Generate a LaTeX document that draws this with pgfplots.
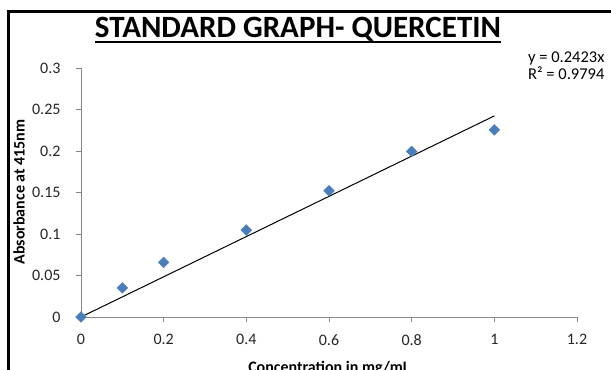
\documentclass[border=0pt]{standalone}
\usepackage{pgfplots}
\pgfplotsset{compat=1.18}
\usepackage{fontspec}
\setmainfont{Carlito}
\definecolor{mblue}{HTML}{4A7EBB}
\definecolor{axgray}{HTML}{868686}
\begin{document}
\begin{tikzpicture}[x=1bp,y=1bp]
\useasboundingbox (0,0) rectangle (611,369);
\clip (0,0) rectangle (611,369);
\fill[white] (0,0) rectangle (611,369);
\draw[line width=2.5bp] (8.5,-5) -- (8.5,357.5) -- (620,357.5);
\begin{axis}[
  at={(81bp,52bp)}, anchor=south west,
  scale only axis, width=496bp, height=249bp,
  xmin=0, xmax=1.2, ymin=0, ymax=0.3,
  axis x line*=bottom, axis y line*=left,
  axis line style={axgray, line width=0.8bp},
  xtick={0,0.2,0.4,0.6,0.8,1,1.2},
  xticklabels={0,0.2,0.4,0.6,0.8,1,1.2},
  ytick={0,0.05,0.1,0.15,0.2,0.25,0.3},
  yticklabels={0,0.05,0.1,0.15,0.2,0.25,0.3},
  tick align=outside, major tick length=5bp,
  tick style={axgray, line width=0.8bp},
  ticklabel style={font=\fontsize{16bp}{19bp}\selectfont, text=black!85},
  xticklabel style={yshift=-9bp},
  yticklabel style={xshift=-12bp},
  xlabel={\textbf{Concentration in mg/mL}},
  label style={font=\fontsize{16bp}{19bp}\selectfont},
  xlabel style={at={(axis description cs:0.5,0)}, anchor=north, yshift=-41bp},
  clip=false,
]
\addplot[black, line width=1bp] coordinates {(0,0) (1,0.2423)};
\addplot[only marks, mark=square*, mark size=3.8bp, mark options={rotate=45, fill=mblue, draw=mblue}] coordinates {
 (0,0) (0.1,0.0351) (0.2,0.0658) (0.4,0.1048) (0.6,0.152) (0.8,0.1995) (1,0.2255)
};
\end{axis}
\node[rotate=90, inner sep=0, font=\fontsize{16bp}{19bp}\selectfont\bfseries] at (19,177) {Absorbance at 415nm};
\node[inner sep=0, anchor=base, font=\fontsize{31bp}{36bp}\selectfont\bfseries] (t) at (298,331.7) {STANDARD GRAPH- QUERCETIN};
\draw[line width=2bp] ([yshift=-5bp]t.base west) -- ([yshift=-5bp]t.base east);
\node[inner sep=0, anchor=north west, font=\fontsize{16.5bp}{15bp}\selectfont, align=left] at (528,317) {y = 0.2423x\\R² = 0.9794};
\end{tikzpicture}
\end{document}
